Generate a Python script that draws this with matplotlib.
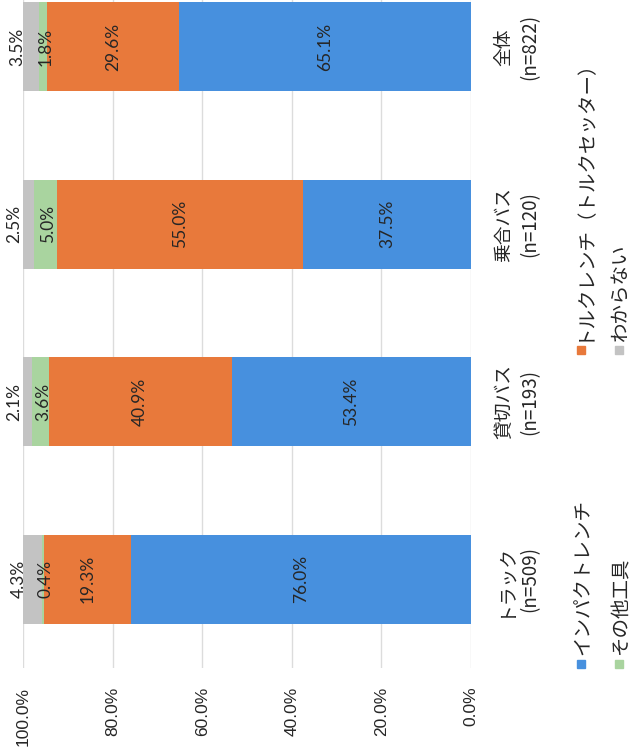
import matplotlib
matplotlib.use("Agg")
import matplotlib.pyplot as plt
from matplotlib.patches import Rectangle
import numpy as np

# Survey shares (%) per vehicle type
categories = ["トラック\n(n=509)", "貸切バス\n(n=193)", "乗合バス\n(n=120)", "全体\n(n=822)"]
impact = [76.0, 53.4, 37.5, 65.1]     # インパクトレンチ
torque = [19.3, 40.9, 55.0, 29.6]     # トルクレンチ（トルクセッター）
other = [0.4, 3.6, 5.0, 1.8]          # その他工具
unknown = [4.3, 2.1, 2.5, 3.5]        # わからない

series_names = ["インパクトレンチ", "トルクレンチ（トルクセッター）", "その他工具", "わからない"]
series_vals = [impact, torque, other, unknown]
colors = ["#4790de", "#e8793b", "#a9d49f", "#c3c3c3"]
xticks = [0, 20, 40, 60, 80, 100]

W, H = 633, 755
fig = plt.figure(figsize=(W / 100, H / 100), dpi=100)
fig.patch.set_facecolor("white")

def fx(x):
    return x / W

def fy(y):
    return 1 - y / H

# axes: 100% at x=23px, 0% at x=471px; bottom at y=668px, extends above the top edge
ax_left, ax_right = 23, 471
ax_bottom, ax_top = 668, -42
ax = fig.add_axes([fx(ax_left), fy(ax_bottom), (ax_right - ax_left) / W, (ax_bottom - ax_top) / H])
ax.set_xlim(100, 0)
ax.set_ylim(-0.5, len(categories) - 0.5)
for s in ax.spines.values():
    s.set_visible(False)
ax.set_facecolor("none")
ax.grid(axis="x", color="#dcdcdc", linewidth=1.0)
ax.set_axisbelow(True)

pos = np.arange(len(categories))
left = np.zeros(len(categories))
num_family = ["Lato", "DejaVu Sans"]
for vals, col, name in zip(series_vals, colors, series_names):
    vals = np.array(vals)
    ax.barh(pos, vals, left=left, height=0.5, color=col, edgecolor="none")
    for i, v in enumerate(vals):
        c = left[i] + v / 2
        dx = 0
        if name == "わからない":
            dx = -10
        elif name == "その他工具":
            dx = 2
        ax.annotate(f"{v:.1f}%", xy=(c, pos[i]), xytext=(dx, 0), textcoords="offset points",
                    rotation=90, ha="center", va="center", color="#262626",
                    family=num_family, fontsize=12.5)
    left = left + vals

# value axis labels
ax.set_xticks(xticks)
ax.set_xticklabels([f"{t:.1f}%" for t in xticks], rotation=90, va="top", ha="center",
                   family=["Liberation Sans", "DejaVu Sans"], fontsize=12.5, color="#262626")
ax.tick_params(axis="x", length=0, pad=13.5)

# category labels on the right side
ax.yaxis.tick_right()
ax.set_yticks(pos)
ax.set_yticklabels(categories, rotation=90, ha="left", va="center",
                   family=["Noto Sans CJK JP", "DejaVu Sans"], fontsize=13.5, color="#262626",
                   linespacing=1.33)
for lab in ax.get_yticklabels():
    lab.set_multialignment("center")
ax.tick_params(axis="y", length=0, pad=16)

# legend, drawn vertically at the right edge
jp = ["Noto Sans CJK JP", "DejaVu Sans"]
legend_items = [
    (series_names[0], colors[0], 581, 664),
    (series_names[1], colors[1], 581, 350),
    (series_names[2], colors[2], 619, 664),
    (series_names[3], colors[3], 619, 350),
]
sq = 8
for name, col, x, y in legend_items:
    fig.patches.append(Rectangle((fx(x - sq / 2), fy(y + sq / 2)), sq / W, sq / H,
                                 transform=fig.transFigure, color=col, figure=fig))
    fig.text(fx(x + 2), fy(y - sq / 2 - 5), name, rotation=90, ha="center", va="bottom",
             family=jp, fontsize=14, color="#262626")

fig.savefig("out.png", dpi=100, facecolor="white")
